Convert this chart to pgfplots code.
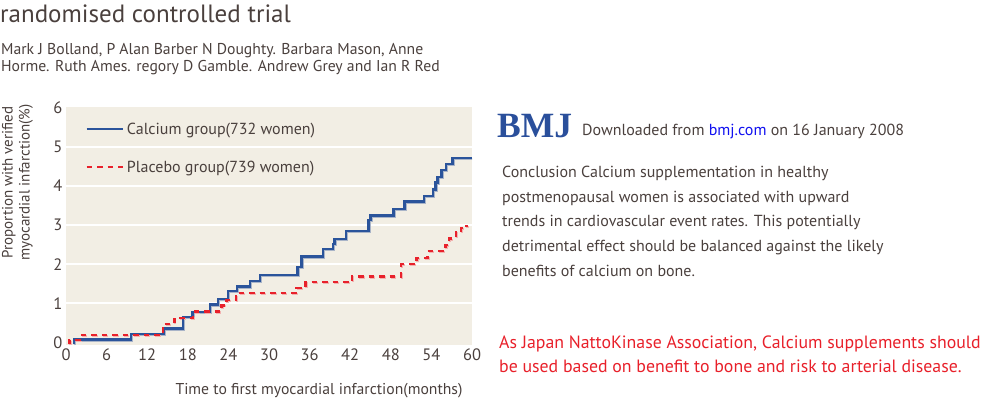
\documentclass[border=0pt]{standalone}
\usepackage{pgfplots}
\pgfplotsset{compat=1.18}
\usetikzlibrary{calc}
\usepackage{fontspec}
\setmainfont{PT Sans}
\newfontfamily\bmjfont{Liberation Serif}
\definecolor{txt}{HTML}{4A403D}
\definecolor{bg}{HTML}{F2EEE4}
\definecolor{calc}{HTML}{2B549B}
\definecolor{calchalo}{HTML}{A9B4C8}
\definecolor{plac}{HTML}{E8212B}
\definecolor{plachalo}{HTML}{F2B3B0}
\definecolor{bmjblue}{HTML}{2A4F9B}
\definecolor{linkblue}{HTML}{1010F0}
\definecolor{redtxt}{HTML}{E8202A}

\pgfplotstableread{
x y
1.2 -0.05
1.2 0.08
9.6 0.22
14.4 0.36
17.3 0.65
18.7 0.78
21.3 0.97
22.5 1.11
23.9 1.32
25.3 1.43
27.2 1.57
28.7 1.73
34.2 1.92
34.8 2.20
38.0 2.38
39.5 2.52
39.7 2.65
41.4 2.84
44.7 3.12
45.0 3.24
48.4 3.41
50.0 3.60
52.9 3.74
54.2 3.91
54.6 4.08
54.9 4.23
55.5 4.41
56.2 4.55
57.1 4.71
60.0 4.71
}\calcium

\pgfplotstableread{
x y
0.5 -0.05
0.5 0.07
2.1 0.19
14.3 0.47
16.0 0.63
18.8 0.79
23.0 0.95
23.7 1.09
25.1 1.26
34.1 1.39
35.4 1.54
42.3 1.69
49.5 2.00
51.8 2.16
53.4 2.33
56.1 2.49
56.6 2.65
57.6 2.81
58.4 2.92
59.2 3.01
}\placebo

\begin{document}
\begin{tikzpicture}[x=1pt,y=1pt]
\begin{axis}[
  name=ax, at={(0,0)}, anchor=south west,
  scale only axis, width=406pt, height=237.5pt,
  xmin=0, xmax=60, ymin=-0.064, ymax=6,
  axis line style={draw=none},
  axis background/.style={fill=bg},
  major tick length=0pt,
  xtick={0,6,...,60},
  ytick={1,2,3,4,5},
  extra y ticks={0,6},
  extra y tick style={grid=none},
  ymajorgrids,
  grid style={white, line width=2.2pt},
  tick label style={font=\fontsize{16.5}{16.5}\selectfont, text=txt},
  /pgf/number format/assume math mode=true,
  legend style={draw=none, fill=none, at={(axis cs:2.85,4.96)}, anchor=west,
    font=\fontsize{16}{16}\selectfont, text=txt, row sep=21pt,
    inner sep=0pt, column sep=1pt},
  legend cell align=left,
  legend image code/.code={\draw[#1] (0pt,0pt) -- (36pt,0pt);},
]
\addplot[const plot, calchalo, line width=2.4pt, xshift=1pt, yshift=-1pt, forget plot] table {\calcium};
\addplot[const plot, plachalo, line width=2.4pt, xshift=1pt, yshift=-1pt, dash pattern=on 5.5pt off 5pt, forget plot] table {\placebo};
\addplot[const plot, calc, line width=2.4pt] table {\calcium};
\addlegendentry{Calcium group(732 women)}
\addplot[const plot, plac, line width=2.5pt, dash pattern=on 5.5pt off 5pt] table {\placebo};
\addlegendentry{Placebo group(739 women)}
\end{axis}
\pgfresetboundingbox
\begin{scope}[shift={($(ax.south west)+(-66pt,-54pt)$)}]
\useasboundingbox (0,0) rectangle (1000,399);
% y label
\node[rotate=90, align=center, text=txt, font=\fontsize{15}{17}\selectfont, inner sep=0pt] at (17.5,216.5)
  {Proportion with verified\\myocardial infarction(\%)};
% x label
\node[anchor=base, text=txt, font=\fontsize{15.7}{15.7}\selectfont, inner sep=0pt] at (319,4.5)
  {Time to first myocardial infarction(months)};

% title and authors
\node[anchor=base west, text=txt, font=\fontsize{25}{25}\selectfont, inner sep=0pt] at (0,376.5) {randomised controlled trial};
\node[anchor=base west, text=txt, font=\fontsize{15.7}{15.7}\selectfont, inner sep=0pt] at (1,344.7) {Mark J Bolland, P Alan Barber N Doughty. Barbara Mason, Anne};
\node[anchor=base west, text=txt, font=\fontsize{15.7}{15.7}\selectfont, inner sep=0pt] at (1,327.3) {Horme. Ruth Ames. regory D Gamble. Andrew Grey and Ian R Red};

% BMJ block
\node[anchor=base west, text=bmjblue, font=\bmjfont\bfseries\fontsize{35.5}{35.5}\selectfont, inner sep=0pt] at (497,261.7) {BMJ};
\node[anchor=base west, text=txt, font=\fontsize{16}{16}\selectfont, inner sep=0pt] at (582,263) {Downloaded from \textcolor{linkblue}{bmj.com} on 16 January 2008};

\node[anchor=base west, text=txt, font=\fontsize{16}{16}\selectfont, inner sep=0pt] at (502,221.7) {Conclusion Calcium supplementation in healthy};
\node[anchor=base west, text=txt, font=\fontsize{16}{16}\selectfont, inner sep=0pt] at (502,196.7) {postmenopausal women is associated with upward};
\node[anchor=base west, text=txt, font=\fontsize{16}{16}\selectfont, inner sep=0pt] at (502,172.5) {trends in cardiovascular event rates. This potentially};
\node[anchor=base west, text=txt, font=\fontsize{16}{16}\selectfont, inner sep=0pt] at (502,148) {detrimental effect should be balanced against the likely};
\node[anchor=base west, text=txt, font=\fontsize{16}{16}\selectfont, inner sep=0pt] at (502,123) {benefits of calcium on bone.};

\node[anchor=base west, text=redtxt, font=\fontsize{17.8}{17.8}\selectfont, inner sep=0pt] at (499,50.7) {As Japan NattoKinase Association, Calcium supplements should};
\node[anchor=base west, text=redtxt, font=\fontsize{17.8}{17.8}\selectfont, inner sep=0pt] at (499,26.3) {be used based on benefit to bone and risk to arterial disease.};
\end{scope}
\end{tikzpicture}
\end{document}
